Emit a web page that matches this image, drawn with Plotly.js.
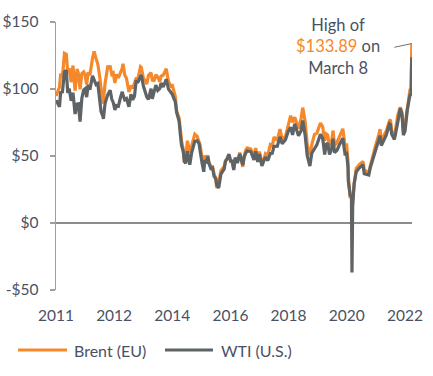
<!DOCTYPE html>
<html>
<head>
<meta charset="utf-8">
<script src="https://cdn.plot.ly/plotly-3.0.1.min.js"></script>
<style>
  html, body { margin: 0; padding: 0; background: #ffffff; }
  #chart { width: 433px; height: 376px; }
</style>
</head>
<body>
<div id="chart"></div>
<script>
// ---- Data (approx.) ----
const dates = [
"2011-01-03","2011-01-20","2011-02-10","2011-02-24","2011-03-15","2011-04-08","2011-04-29","2011-05-16","2011-06-01","2011-06-24",
"2011-07-15","2011-08-08","2011-08-31","2011-09-15","2011-10-04","2011-10-25","2011-11-15","2011-12-01","2011-12-19",
"2012-01-05","2012-01-25","2012-02-24","2012-03-13","2012-04-05","2012-04-25","2012-05-15","2012-06-01","2012-06-22","2012-06-28",
"2012-07-17","2012-08-16","2012-09-14","2012-10-02","2012-10-19","2012-11-07","2012-11-26","2012-12-17",
"2013-01-08","2013-01-30","2013-02-08","2013-02-28","2013-03-20","2013-04-17","2013-05-10","2013-05-31","2013-06-20","2013-07-10",
"2013-07-26","2013-08-28","2013-09-06","2013-10-01","2013-10-24","2013-11-07","2013-11-27","2013-12-27",
"2014-01-10","2014-01-31","2014-02-20","2014-03-14","2014-04-07","2014-04-21","2014-05-15","2014-06-19","2014-07-15","2014-08-13",
"2014-08-29","2014-09-15","2014-10-01","2014-10-16","2014-11-14","2014-11-28","2014-12-12","2014-12-31",
"2015-01-13","2015-01-29","2015-02-17","2015-03-17","2015-04-06","2015-05-13","2015-06-10","2015-06-30","2015-07-15","2015-08-03",
"2015-08-24","2015-09-03","2015-09-25","2015-10-09","2015-10-23","2015-11-13","2015-12-03","2015-12-21",
"2016-01-08","2016-01-20","2016-02-11","2016-03-08","2016-04-15","2016-04-29","2016-05-16","2016-06-08","2016-06-27","2016-07-15",
"2016-08-02","2016-08-19","2016-09-13","2016-10-10","2016-11-14","2016-11-30","2016-12-21",
"2017-01-06","2017-02-14","2017-03-22","2017-04-11","2017-05-04","2017-05-24","2017-06-21","2017-07-14","2017-08-01","2017-08-28",
"2017-09-26","2017-10-18","2017-11-07","2017-12-15",
"2018-01-15","2018-02-09","2018-03-19","2018-04-19","2018-05-17","2018-06-08","2018-07-03","2018-08-15","2018-09-14","2018-10-03",
"2018-10-31","2018-11-23","2018-12-24",
"2019-01-15","2019-02-15","2019-03-15","2019-04-24","2019-05-20","2019-06-12","2019-06-28","2019-07-15","2019-08-07","2019-08-30",
"2019-09-16","2019-10-03","2019-10-31","2019-11-25","2019-12-27",
"2020-01-06","2020-01-31","2020-02-18","2020-03-06","2020-03-09","2020-03-31","2020-04-14","2020-04-20","2020-04-21","2020-04-28",
"2020-05-15","2020-06-08","2020-07-15","2020-08-25","2020-09-08","2020-10-30","2020-11-16","2020-12-15",
"2021-01-13","2021-02-25","2021-03-08","2021-03-23","2021-04-26","2021-05-18","2021-06-25","2021-07-06","2021-07-19","2021-08-20",
"2021-09-28","2021-10-26","2021-11-15","2021-12-01","2021-12-20",
"2022-01-14","2022-02-14","2022-02-28","2022-03-04","2022-03-07","2022-03-08"
];

const brent = [
94.8,97.5,101.5,111.4,108.5,126.6,125.9,112.0,115.5,105.1,
117.5,98.7,114.9,111.6,99.8,111.5,112.8,110.5,103.4,
112.5,110.3,123.0,128.1,122.6,118.6,110.0,99.5,89.2,91.4,
104.0,116.5,116.6,111.0,111.9,104.5,110.9,108.3,
111.6,115.5,118.9,110.4,108.0,97.7,102.5,100.4,104.3,108.5,
106.8,116.6,116.1,107.8,106.3,103.5,110.0,112.2,
106.6,106.4,110.6,108.8,105.4,109.6,110.2,115.1,105.6,102.0,
102.5,97.0,94.5,83.8,78.4,70.2,61.1,55.3,
45.1,47.5,61.4,52.5,57.9,66.3,64.6,61.4,57.5,48.6,
41.6,50.4,46.5,50.6,45.3,42.2,42.0,36.1,
33.6,26.0,30.1,39.1,42.3,46.6,47.6,51.4,46.0,46.3,
40.7,49.0,44.9,52.5,41.9,49.9,54.8,
56.1,55.2,49.6,55.9,47.3,53.2,44.8,47.5,51.8,50.5,
58.4,57.4,64.1,61.7,
70.1,62.1,64.7,73.8,80.1,75.1,79.0,70.5,77.9,86.1,
75.5,58.4,50.5,
58.5,66.1,67.1,74.6,71.8,61.2,66.6,65.8,57.6,60.5,
69.0,57.7,60.2,64.3,68.9,
70.3,57.8,59.2,45.3,34.4,18.5,20.6,18.8,9.1,17.2,
29.1,40.8,43.8,45.9,39.6,37.5,42.5,50.8,
57.2,66.6,70.0,61.3,65.6,68.7,76.3,77.2,68.6,64.6,
80.5,86.4,82.6,68.9,73.1,
86.0,99.3,100.9,118.1,127.9,133.89
];

const wti = [
91.6,89.0,86.7,98.1,97.2,112.8,113.9,97.0,100.3,91.2,
97.2,81.3,88.8,89.0,75.7,93.2,99.4,100.2,93.9,
103.2,99.4,109.8,106.7,103.3,104.1,93.9,83.2,79.8,77.7,
89.2,95.6,99.0,92.5,90.0,84.4,87.7,87.2,
93.1,97.9,95.7,92.0,92.9,86.7,96.0,91.9,94.7,106.5,
104.7,110.1,110.5,102.0,97.1,94.2,92.3,100.3,
92.7,97.5,102.9,98.9,100.4,104.4,101.5,107.3,99.9,97.4,
95.9,92.9,90.7,82.7,75.8,66.2,57.8,53.5,
46.1,44.5,53.5,43.5,52.1,60.9,61.4,59.5,51.4,45.2,
38.2,46.8,45.7,49.6,44.6,40.7,41.1,34.7,
33.2,28.4,26.2,36.5,40.4,45.9,47.7,51.2,46.3,45.9,
39.5,48.5,44.9,51.6,43.3,49.4,52.5,
53.9,53.2,47.0,53.4,45.5,51.4,42.5,46.5,49.2,46.6,
51.9,52.0,57.2,57.3,
64.3,59.2,62.1,68.3,71.5,65.7,74.1,65.0,68.9,76.4,
65.3,50.4,42.5,
52.1,55.6,58.5,66.3,63.1,51.1,58.5,59.6,51.1,55.1,
62.9,52.5,54.2,58.0,61.7,
63.3,51.6,52.0,41.3,31.1,20.5,20.1,-37.0,8.9,12.3,
29.4,38.2,41.2,43.4,36.8,35.8,41.3,47.6,
53.9,63.5,65.1,57.8,61.9,65.5,74.0,73.4,66.4,62.3,
75.3,85.6,80.8,65.6,68.6,
83.8,95.5,95.7,115.7,119.4,123.7
];

const seriesNames = ["Brent (EU)", "WTI (U.S.)"];
const yTickVals = [-50, 0, 50, 100, 150];
const yTickText = ["-$50", "$0", "$50", "$100", "$150"];
const xTickVals = ["2011-01-01","2012-10-29","2014-08-27","2016-06-26","2018-04-23","2020-02-21","2021-12-20"];
const xTickText = ["2011","2012","2014","2016","2018","2020","2022"];

// ---- Styles ----
const ORANGE = "#F5882A";
const GRAY = "#5E6366";
const TEXT = "#4A5163";
const AXIS = "#9E9E9E";
const FONT = "Lato, 'Open Sans', sans-serif";

const traces = [
  { x: dates, y: brent, name: seriesNames[0], type: "scatter", mode: "lines",
    line: { color: ORANGE, width: 3.2 }, hoverinfo: "skip" },
  { x: dates, y: wti, name: seriesNames[1], type: "scatter", mode: "lines",
    line: { color: GRAY, width: 3.2 }, hoverinfo: "skip" }
];

const lastIdx = dates.length - 1;

const layout = {
  width: 433, height: 376,
  margin: { l: 56, r: 21, t: 22, b: 86 },
  paper_bgcolor: "#ffffff", plot_bgcolor: "#ffffff",
  font: { family: FONT, size: 15, color: TEXT },
  showlegend: false,
  xaxis: {
    type: "date",
    range: ["2011-01-01", "2022-03-10"],
    tickmode: "array", tickvals: xTickVals, ticktext: xTickText,
    showgrid: false, zeroline: false, showline: false, ticks: "",
    tickfont: { size: 15.5, color: TEXT },
    ticklabelstandoff: 14
  },
  yaxis: {
    range: [-50, 150],
    tickmode: "array", tickvals: yTickVals, ticktext: yTickText,
    showgrid: false,
    zeroline: true, zerolinecolor: "#8C8C8C", zerolinewidth: 1.5,
    showline: true, linecolor: AXIS, linewidth: 1.5,
    ticks: "outside", ticklen: 5, tickcolor: AXIS, tickwidth: 1.5,
    tickfont: { size: 15.5, color: TEXT },
    ticklabelstandoff: 8
  },
  shapes: [
    { type: "line", xref: "paper", yref: "paper",
      x0: (18 - 56) / 356, x1: (67 - 56) / 356, y0: (290 - 350) / 268, y1: (290 - 350) / 268,
      line: { color: ORANGE, width: 3 } },
    { type: "line", xref: "paper", yref: "paper",
      x0: (165 - 56) / 356, x1: (213 - 56) / 356, y0: (290 - 350) / 268, y1: (290 - 350) / 268,
      line: { color: GRAY, width: 3 } }
  ],
  annotations: [
    { xref: "paper", yref: "paper", x: (72 - 56) / 356, y: (290 - 350) / 268,
      xanchor: "left", yanchor: "middle", showarrow: false,
      text: seriesNames[0], font: { size: 16, color: TEXT } },
    { xref: "paper", yref: "paper", x: (219 - 56) / 356, y: (290 - 350) / 268,
      xanchor: "left", yanchor: "middle", showarrow: false,
      text: seriesNames[1], font: { size: 16, color: TEXT } },
    { xref: "paper", yref: "paper", x: (338 - 56) / 356, y: (290 - 46) / 268,
      xanchor: "center", yanchor: "middle", showarrow: false, align: "center",
      text: "High of<br><span style='color:" + ORANGE + "'>$" + brent[lastIdx].toFixed(2) + "</span> on<br>March 8",
      font: { size: 16.5, color: TEXT } },
    { x: dates[lastIdx], y: brent[lastIdx], xref: "x", yref: "y",
      text: "", showarrow: true, arrowhead: 0, arrowwidth: 1, arrowcolor: "#707070",
      ax: -19, ay: 4, standoff: 0 }
  ]
};

Plotly.newPlot("chart", traces, layout, { displayModeBar: false, staticPlot: true });
</script>
</body>
</html>
